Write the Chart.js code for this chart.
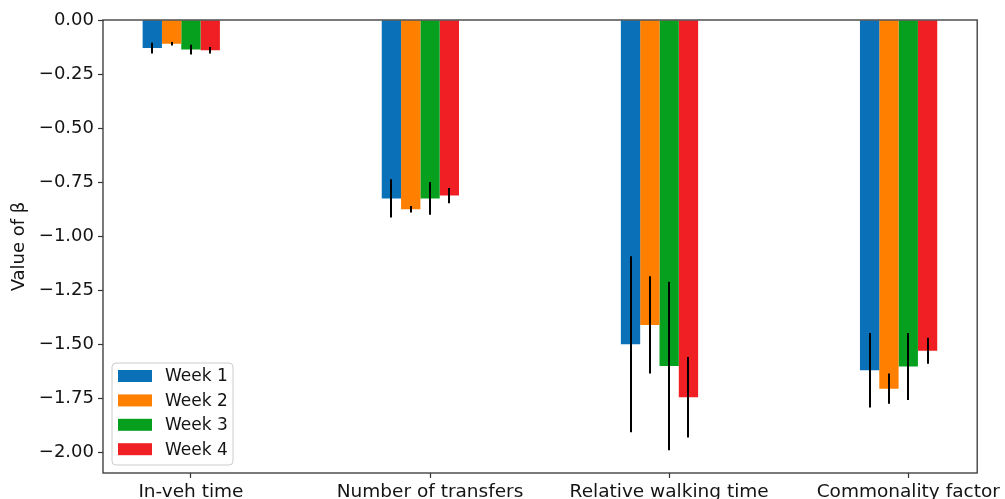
<!DOCTYPE html>
<html>
<head>
<meta charset="utf-8">
<script src="https://cdn.jsdelivr.net/npm/chart.js@4"></script>
<style>
  html, body { margin: 0; padding: 0; background: #ffffff; }
  canvas { display: block; }
</style>
</head>
<body>
<canvas id="chart" width="1005" height="499"></canvas>
<script>
// Estimated coefficients (beta) per attribute and week, with error half-widths
const categories = ['In-veh time', 'Number of transfers', 'Relative walking time', 'Commonality factor'];
const seriesNames = ['Week 1', 'Week 2', 'Week 3', 'Week 4'];
const week1 = [-0.130, -0.825, -1.500, -1.620];
const week2 = [-0.110, -0.875, -1.410, -1.705];
const week3 = [-0.137, -0.825, -1.600, -1.602];
const week4 = [-0.140, -0.812, -1.745, -1.530];
const err1 = [0.025, 0.088, 0.407, 0.172];
const err2 = [0.008, 0.015, 0.225, 0.070];
const err3 = [0.023, 0.076, 0.390, 0.155];
const err4 = [0.015, 0.035, 0.186, 0.060];
const yTicks = [0, -0.25, -0.5, -0.75, -1.0, -1.25, -1.5, -1.75, -2.0];

const seriesValues = [week1, week2, week3, week4];
const seriesErrors = [err1, err2, err3, err4];
const colors = ['#0a71b8', '#ff8000', '#07a01e', '#f01f23'];

const FONT = 'DejaVu Sans';
const AXIS_COLOR = '#333333';
const TEXT_COLOR = '#141414';

const datasets = seriesValues.map((vals, k) => ({
  label: seriesNames[k],
  data: vals.map((v, i) => ({ x: i, y: v })),
  backgroundColor: colors[k],
  borderWidth: 0,
  errors: seriesErrors[k]
}));
// empty slot after Week 4 so that the group is laid out with Week 3 on the tick
datasets.push({
  label: '',
  data: categories.map((_, i) => ({ x: i, y: null })),
  backgroundColor: 'rgba(0,0,0,0)',
  spacer: true
});

const errorBars = {
  id: 'errorBars',
  afterDatasetsDraw(chart) {
    const { ctx } = chart;
    const yScale = chart.scales.y;
    ctx.save();
    ctx.strokeStyle = '#000000';
    ctx.lineWidth = 2;
    chart.data.datasets.forEach((ds, k) => {
      if (!ds.errors) return;
      const meta = chart.getDatasetMeta(k);
      meta.data.forEach((bar, i) => {
        const v = ds.data[i].y;
        const e = ds.errors[i];
        ctx.beginPath();
        ctx.moveTo(Math.round(bar.x), yScale.getPixelForValue(v + e));
        ctx.lineTo(Math.round(bar.x), yScale.getPixelForValue(v - e));
        ctx.stroke();
      });
    });
    // axes frame
    const a = chart.chartArea;
    ctx.strokeStyle = AXIS_COLOR;
    ctx.lineWidth = 1.3;
    ctx.strokeRect(a.left, a.top, a.right - a.left, a.bottom - a.top);
    ctx.restore();
  }
};

const boxLegend = {
  id: 'boxLegend',
  afterDraw(chart) {
    const { ctx } = chart;
    const a = chart.chartArea;
    const x0 = a.left + 9, y0 = 363, w = 121, h = 102, r = 4;
    ctx.save();
    ctx.beginPath();
    ctx.roundRect(x0, y0, w, h, r);
    ctx.fillStyle = 'rgba(255,255,255,0.85)';
    ctx.fill();
    ctx.strokeStyle = '#cccccc';
    ctx.lineWidth = 1;
    ctx.stroke();
    ctx.font = '17px "' + FONT + '"';
    ctx.textBaseline = 'middle';
    chart.data.datasets.forEach((ds, k) => {
      if (ds.spacer) return;
      const cy = y0 + 13 + k * 24.4;
      ctx.fillStyle = ds.backgroundColor;
      ctx.fillRect(x0 + 6, cy - 6, 34, 12);
      ctx.fillStyle = TEXT_COLOR;
      ctx.fillText(ds.label, x0 + 53, cy + 1);
    });
    ctx.restore();
  }
};

new Chart(document.getElementById('chart'), {
  type: 'bar',
  data: { datasets },
  options: {
    responsive: false,
    animation: false,
    layout: { padding: { top: 20, right: 27, left: 0, bottom: 0 } },
    datasets: { bar: { categoryPercentage: 0.4039, barPercentage: 1.0 } },
    plugins: { legend: { display: false }, tooltip: { enabled: false } },
    scales: {
      x: {
        type: 'linear',
        min: -0.3677,
        max: 3.2883,
        offset: false,
        grid: { display: true, offset: false, drawOnChartArea: false, drawTicks: true, tickLength: 5, tickColor: AXIS_COLOR, tickWidth: 1.2 },
        border: { display: false },
        afterBuildTicks(axis) { axis.ticks = categories.map((_, i) => ({ value: i })); },
        afterFit(axis) { axis.height = 26; },
        ticks: {
          autoSkip: false,
          maxRotation: 0,
          padding: 3,
          color: TEXT_COLOR,
          font: { family: FONT, size: 18.5 },
          callback: (v) => categories[v]
        }
      },
      y: {
        type: 'linear',
        min: -2.095,
        max: 0,
        grid: { display: true, drawOnChartArea: false, drawTicks: true, tickLength: 5, tickColor: AXIS_COLOR, tickWidth: 1.2 },
        border: { display: false },
        afterBuildTicks(axis) { axis.ticks = yTicks.map(v => ({ value: v })); },
        afterFit(axis) { axis.width = 103; },
        title: {
          display: true,
          text: 'Value of β',
          color: TEXT_COLOR,
          font: { family: FONT, size: 18 },
          padding: { top: 9, bottom: 0 }
        },
        ticks: {
          padding: 4,
          color: TEXT_COLOR,
          font: { family: FONT, size: 18 },
          callback: (v) => (v === 0 ? '0.00' : v.toFixed(2).replace('-', '\u2212'))
        }
      }
    }
  },
  plugins: [errorBars, boxLegend]
});
</script>
</body>
</html>
